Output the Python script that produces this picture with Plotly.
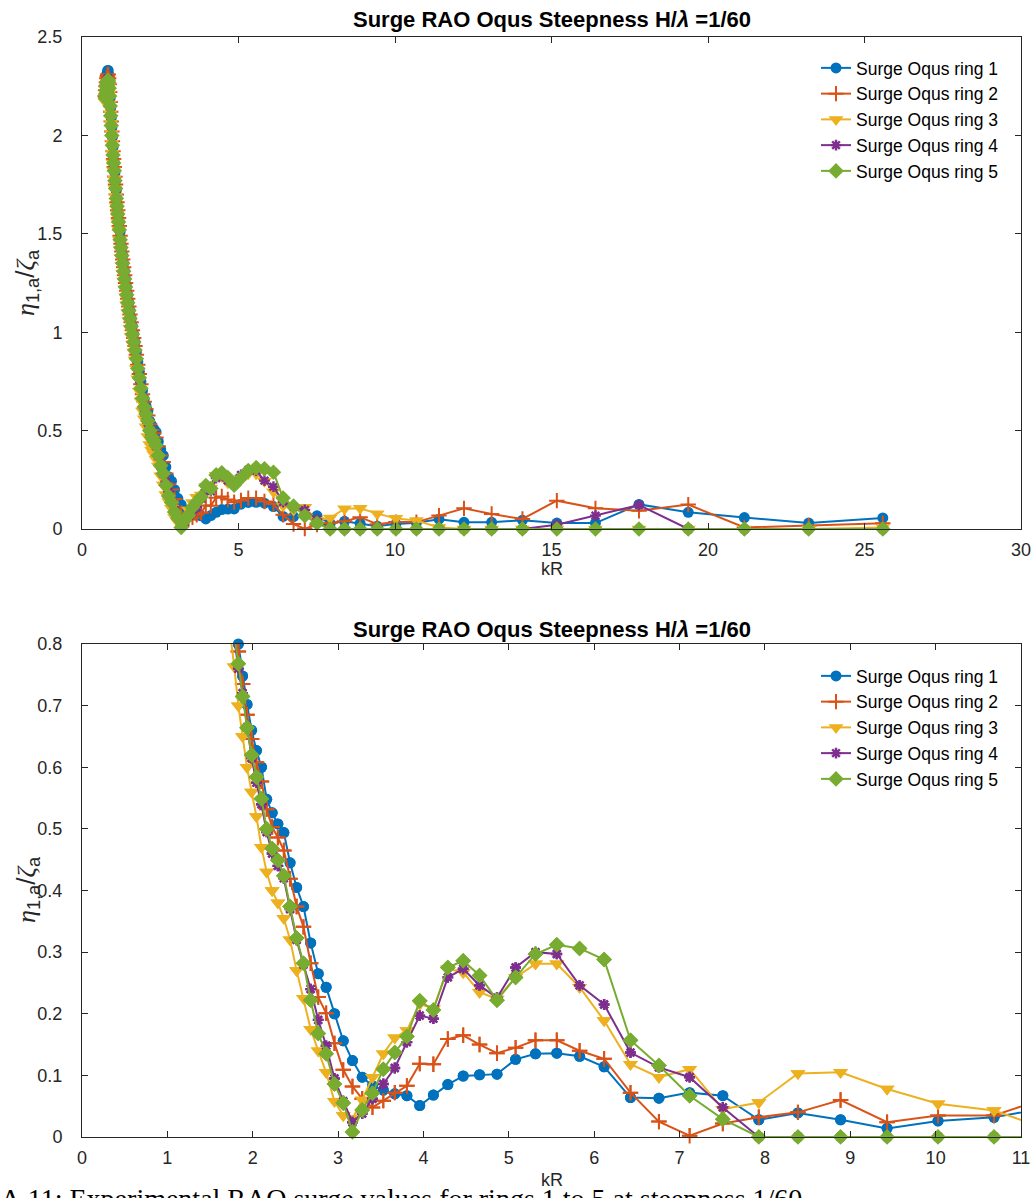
import numpy as np
import plotly.graph_objects as go

# ---------------- data ----------------
kR = [0.7406, 0.7533, 0.7663, 0.7797, 0.7934, 0.8075, 0.8220, 0.8368, 0.8521, 0.8678,
      0.8839, 0.9005, 0.9176, 0.9351, 0.9532, 0.9718, 0.9909, 1.0106, 1.0309, 1.0518,
      1.0734, 1.0956, 1.1185, 1.1422, 1.1666, 1.1918, 1.2178, 1.2447, 1.2725, 1.3012,
      1.3309, 1.3616, 1.3934, 1.4264, 1.4605, 1.4959, 1.5325, 1.5706, 1.6100, 1.6510,
      1.6936, 1.7378, 1.7838, 1.8316, 1.8814, 1.9332, 1.9872, 2.0435, 2.1022, 2.1635,
      2.2275, 2.2944, 2.3644, 2.4376, 2.5143, 2.5946, 2.6788, 2.7672, 2.8601, 2.9577,
      3.0604, 3.1686, 3.2826, 3.4028, 3.5298, 3.6641, 3.8061, 3.9565, 4.1161, 4.2855,
      4.4656, 4.6572, 4.8615, 5.0795, 5.3126, 5.5620, 5.8293, 6.1165, 6.4254, 6.7585,
      7.1180, 7.5069, 7.9286, 8.3870, 8.8863, 9.4313, 10.028, 10.684, 11.406, 12.204,
      13.088, 14.072, 15.171, 16.404, 17.795, 19.369, 21.162, 23.217, 25.585]

ring1 = [2.22, 2.25, 2.27, 2.29, 2.31, 2.32, 2.33, 2.33, 2.31, 2.28,
         2.24, 2.19, 2.14, 2.09, 2.04, 1.99, 1.94, 1.90, 1.86, 1.81,
         1.77, 1.72, 1.68, 1.64, 1.60, 1.56, 1.51, 1.47, 1.43, 1.39,
         1.35, 1.31, 1.27, 1.23, 1.19, 1.15, 1.11, 1.07, 1.03, 0.99,
         0.95, 0.90, 0.85, 0.80, 0.748, 0.702, 0.660, 0.627, 0.600, 0.548,
         0.526, 0.508, 0.494, 0.445, 0.405, 0.374, 0.315, 0.265, 0.243, 0.200,
         0.156, 0.124, 0.097, 0.083, 0.076, 0.070, 0.067, 0.051, 0.068, 0.085,
         0.099, 0.101, 0.102, 0.126, 0.135, 0.136, 0.131, 0.114, 0.064, 0.063,
         0.072, 0.067, 0.028, 0.039, 0.028, 0.014, 0.026, 0.032, 0.050, 0.034,
         0.034, 0.045, 0.030, 0.030, 0.125, 0.085, 0.058, 0.030, 0.056]

ring2 = [2.20, 2.23, 2.25, 2.27, 2.29, 2.30, 2.31, 2.31, 2.29, 2.26,
         2.22, 2.17, 2.12, 2.07, 2.02, 1.97, 1.92, 1.88, 1.84, 1.79,
         1.75, 1.70, 1.66, 1.62, 1.58, 1.54, 1.49, 1.45, 1.41, 1.37,
         1.33, 1.29, 1.25, 1.21, 1.17, 1.13, 1.09, 1.05, 1.01, 0.97,
         0.93, 0.885, 0.835, 0.788, 0.735, 0.685, 0.646, 0.608, 0.577, 0.532,
         0.503, 0.486, 0.465, 0.419, 0.374, 0.341, 0.282, 0.227, 0.201, 0.152,
         0.109, 0.082, 0.062, 0.048, 0.059, 0.072, 0.083, 0.119, 0.118, 0.159,
         0.165, 0.150, 0.136, 0.145, 0.157, 0.157, 0.140, 0.127, 0.072, 0.025,
         0.002, 0.022, 0.032, 0.040, 0.060, 0.024, 0.035, 0.035, 0.068, 0.105,
         0.076, 0.051, 0.144, 0.105, 0.093, 0.124, 0.008, 0.017, 0.029]

ring3 = [2.17, 2.19, 2.21, 2.23, 2.25, 2.26, 2.27, 2.27, 2.25, 2.21,
         2.16, 2.11, 2.06, 2.01, 1.96, 1.91, 1.86, 1.82, 1.78, 1.73,
         1.69, 1.64, 1.60, 1.56, 1.52, 1.47, 1.42, 1.38, 1.34, 1.30,
         1.26, 1.22, 1.18, 1.14, 1.10, 1.06, 1.02, 0.98, 0.94, 0.90,
         0.86, 0.815, 0.763, 0.700, 0.650, 0.600, 0.560, 0.520, 0.470, 0.430,
         0.400, 0.380, 0.355, 0.320, 0.270, 0.225, 0.175, 0.140, 0.105, 0.058,
         0.035, 0.030, 0.060, 0.097, 0.135, 0.161, 0.173, 0.216, 0.208, 0.273,
         0.267, 0.235, 0.224, 0.259, 0.281, 0.281, 0.243, 0.189, 0.118, 0.097,
         0.110, 0.045, 0.056, 0.103, 0.105, 0.078, 0.054, 0.043, 0.008, 0.0,
         0.0, 0.0, 0.0, 0.0, 0.0, 0.0, 0.0, 0.0, 0.008]

ring4 = [2.20, 2.22, 2.24, 2.26, 2.27, 2.28, 2.29, 2.29, 2.27, 2.24,
         2.20, 2.15, 2.10, 2.05, 2.00, 1.95, 1.90, 1.86, 1.82, 1.77,
         1.73, 1.68, 1.64, 1.60, 1.56, 1.52, 1.47, 1.43, 1.39, 1.35,
         1.31, 1.27, 1.23, 1.19, 1.15, 1.11, 1.07, 1.03, 0.99, 0.95,
         0.905, 0.86, 0.81, 0.76, 0.72, 0.665, 0.615, 0.575, 0.540, 0.495,
         0.460, 0.440, 0.420, 0.370, 0.320, 0.280, 0.240, 0.190, 0.148, 0.095,
         0.058, 0.024, 0.038, 0.062, 0.086, 0.112, 0.154, 0.197, 0.192, 0.259,
         0.273, 0.246, 0.226, 0.275, 0.300, 0.297, 0.246, 0.215, 0.137, 0.113,
         0.097, 0.048, 0.0, 0.0, 0.0, 0.0, 0.0, 0.0, 0.0, 0.0,
         0.0, 0.0, 0.022, 0.068, 0.122, 0.0, 0.0, 0.0, 0.0]

ring5 = [2.19, 2.21, 2.23, 2.25, 2.26, 2.27, 2.28, 2.28, 2.27, 2.24,
         2.20, 2.15, 2.10, 2.05, 2.00, 1.95, 1.90, 1.86, 1.82, 1.77,
         1.73, 1.68, 1.64, 1.60, 1.56, 1.52, 1.47, 1.43, 1.39, 1.35,
         1.31, 1.27, 1.23, 1.19, 1.15, 1.11, 1.07, 1.03, 0.99, 0.95,
         0.91, 0.865, 0.815, 0.768, 0.715, 0.664, 0.620, 0.584, 0.549, 0.500,
         0.468, 0.449, 0.424, 0.374, 0.323, 0.282, 0.222, 0.168, 0.135, 0.086,
         0.055, 0.008, 0.044, 0.071, 0.110, 0.137, 0.163, 0.221, 0.206, 0.275,
         0.286, 0.262, 0.222, 0.259, 0.297, 0.312, 0.306, 0.288, 0.157, 0.116,
         0.067, 0.029, 0.0, 0.0, 0.0, 0.0, 0.0, 0.0, 0.0, 0.0,
         0.0, 0.0, 0.0, 0.0, 0.0, 0.0, 0.0, 0.0, 0.0]

series_names = ["Surge Oqus ring 1", "Surge Oqus ring 2", "Surge Oqus ring 3",
                "Surge Oqus ring 4", "Surge Oqus ring 5"]
series_values = [ring1, ring2, ring3, ring4, ring5]

# ---------------- styling ----------------
colors = ["#0072BD", "#D95319", "#EDB120", "#7E2F8E", "#77AC30"]
symbols = ["circle", "cross-thin", "triangle-down", "asterisk", "diamond"]
msizes = [11, 11, 13, 9, 12]
mlines = [0, 2, 0, 2.4, 0]

FONT = "Liberation Sans, Arial, Helvetica, sans-serif"
AX = "#262626"
W, H = 1033, 1198


def px_x(p):
    return p / W


def px_y(p):
    return 1 - p / H


fig = go.Figure()

x_np = np.array(kR)
for name, vals, c, s, ms, ml in zip(series_names, series_values, colors, symbols, msizes, mlines):
    marker = dict(symbol=s, size=ms, color=c, line=dict(color=c, width=ml))
    line = dict(color=c, width=2)
    # top panel
    fig.add_trace(go.Scatter(x=kR, y=vals, mode="lines+markers", name=name,
                             xaxis="x", yaxis="y", line=line, marker=marker,
                             cliponaxis=False, legend="legend"))
    # bottom panel: full line (clipped) + unclipped markers inside the visible range
    fig.add_trace(go.Scatter(x=kR, y=vals, mode="lines+markers", name=name,
                             xaxis="x2", yaxis="y2", line=line, marker=marker,
                             cliponaxis=True, legend="legend2"))
    y_np = np.array(vals)
    m = (x_np >= 0) & (x_np <= 11) & (y_np >= 0) & (y_np <= 0.8)
    fig.add_trace(go.Scatter(x=x_np[m], y=y_np[m], mode="markers", showlegend=False,
                             xaxis="x2", yaxis="y2", marker=marker, cliponaxis=False,
                             hoverinfo="skip"))

axis_common = dict(showline=True, linecolor=AX, linewidth=1, mirror="ticks",
                   ticks="inside", ticklen=6, tickcolor=AX, tickwidth=1,
                   showgrid=False, zeroline=False, automargin=False,
                   tickfont=dict(family=FONT, size=18, color=AX))

xdom = [px_x(82), px_x(1021)]
fig.update_layout(
    template="none",
    width=W, height=H,
    margin=dict(l=0, r=0, t=0, b=0, pad=0, autoexpand=False),
    paper_bgcolor="white", plot_bgcolor="white",
    xaxis=dict(domain=xdom, range=[0, 30], dtick=5, anchor="y", ticklabelstandoff=4, **axis_common),
    yaxis=dict(domain=[px_y(529), px_y(37)], range=[0, 2.5], dtick=0.5, anchor="x",
               ticklabelstandoff=15, **axis_common),
    xaxis2=dict(domain=xdom, range=[0, 11], dtick=1, anchor="y2", ticklabelstandoff=4, **axis_common),
    yaxis2=dict(domain=[px_y(1137), px_y(644)], range=[0, 0.8], dtick=0.1, anchor="x2",
                ticklabelstandoff=15, **axis_common),
    legend=dict(x=px_x(1004), y=px_y(50), xanchor="right", yanchor="top",
                bgcolor="white", borderwidth=0, tracegroupgap=0,
                font=dict(family=FONT, size=17.5, color="black")),
    legend2=dict(x=px_x(1004), y=px_y(658), xanchor="right", yanchor="top",
                 bgcolor="white", borderwidth=0, tracegroupgap=0,
                 font=dict(family=FONT, size=17.5, color="black")),
    showlegend=True,
)

title_txt = "<b>Surge RAO Oqus Steepness H/<i>λ</i> =1/60</b>"
ylab = ('<span style="font-family:Liberation Serif"><i>η</i></span><sub>1,a</sub>/'
        '<span style="font-family:Liberation Serif"><i>ζ</i></span><sub>a</sub>')
cx = px_x((82 + 1021) / 2)
annos = [
    dict(text=title_txt, x=cx, y=px_y(19), xref="paper", yref="paper", showarrow=False,
         xanchor="center", yanchor="middle", font=dict(family=FONT, size=22, color="black")),
    dict(text=title_txt, x=cx, y=px_y(629), xref="paper", yref="paper", showarrow=False,
         xanchor="center", yanchor="middle", font=dict(family=FONT, size=22, color="black")),
    dict(text="kR", x=cx, y=px_y(569), xref="paper", yref="paper", showarrow=False,
         xanchor="center", yanchor="middle", font=dict(family=FONT, size=18, color=AX)),
    dict(text="kR", x=cx, y=px_y(1180), xref="paper", yref="paper", showarrow=False,
         xanchor="center", yanchor="middle", font=dict(family=FONT, size=18, color=AX)),
    dict(text=ylab, x=px_x(27), y=px_y(283), xref="paper", yref="paper", showarrow=False,
         textangle=-90, xanchor="center", yanchor="middle", font=dict(family=FONT, size=26, color=AX)),
    dict(text=ylab, x=px_x(27), y=px_y(890), xref="paper", yref="paper", showarrow=False,
         textangle=-90, xanchor="center", yanchor="middle", font=dict(family=FONT, size=26, color=AX)),
    dict(text="Figure A.11: Experimental RAO surge values for rings 1 to 5 at steepness 1/60",
         x=px_x(-80), y=px_y(1181), xref="paper", yref="paper", showarrow=False,
         xanchor="left", yanchor="top",
         font=dict(family="Liberation Serif, DejaVu Serif, serif", size=28, color="black")),
]
fig.update_layout(annotations=annos)

fig.write_html("out.html")
